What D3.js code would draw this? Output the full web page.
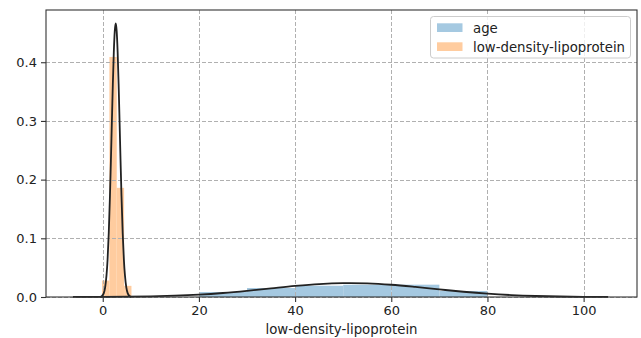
<!DOCTYPE html>
<html>
<head>
<meta charset="utf-8">
<script src="https://cdn.jsdelivr.net/npm/d3@7/dist/d3.min.js"></script>
<style>
  html, body { margin: 0; padding: 0; background: #fff; }
  svg { display: block; font-family: "DejaVu Sans", sans-serif; }
</style>
</head>
<body>
<svg id="chart" width="641" height="338"></svg>
<script>
// Histogram bins (density) for each variable
const ageBinEdges = [20, 30, 40, 50, 60, 70, 80];
const ageDensity = [0.0085, 0.0153, 0.0192, 0.0208, 0.0210, 0.0102];

const ldlBinEdges = [-0.15, 1.38, 2.91, 4.44, 5.97];
const ldlDensity = [0.028, 0.409, 0.186, 0.019];

// Fitted density curves
const ageCurveX = [-6.2, 0, 5, 10, 15, 20, 25, 30, 35, 40, 45, 50, 51.5, 55, 60, 65, 70, 75, 80, 85, 90, 95, 100, 105.1];
const ageCurveY = [0.00007, 0.00022, 0.00052, 0.00112, 0.00224, 0.00409, 0.00684, 0.01047, 0.01467, 0.01879, 0.02203, 0.02366, 0.02375, 0.02324, 0.0209, 0.0172, 0.01296, 0.00893, 0.00564, 0.00325, 0.00172, 0.00083, 0.00037, 0.00015];

const ldlCurveX = [-0.5, -0.2, 0.2, 0.5, 1.0, 1.25, 1.5, 1.7, 1.9, 2.1, 2.3, 2.5, 2.7, 2.9, 3.1, 3.3, 3.5, 3.7, 3.9, 4.15, 4.4, 4.9, 5.2, 5.6, 5.9];
const ldlCurveY = [0.0004, 0.0014, 0.0062, 0.0164, 0.0631, 0.1088, 0.172, 0.233, 0.299, 0.363, 0.417, 0.453, 0.466, 0.453, 0.417, 0.363, 0.299, 0.233, 0.172, 0.1088, 0.0631, 0.0164, 0.0062, 0.0014, 0.0004];

const xTicks = [0, 20, 40, 60, 80, 100];
const yTicks = [0.0, 0.1, 0.2, 0.3, 0.4];
const seriesNames = ["age", "low-density-lipoprotein"];
const xLabel = "low-density-lipoprotein";

const colors = ["#a5c9e1", "#ffcc9f"];

const svg = d3.select("#chart");
const plot = { left: 46, right: 637, top: 10, bottom: 297 };

const x = d3.scaleLinear().domain([-11.8, 111.1]).range([plot.left, plot.right]);
const y = d3.scaleLinear().domain([0, 0.489]).range([plot.bottom, plot.top]);

function bins(edges, vals) {
  return vals.map((v, i) => ({ x0: edges[i], x1: edges[i + 1], v }));
}

// Bars
const barsG = svg.append("g");
[[bins(ageBinEdges, ageDensity), colors[0]], [bins(ldlBinEdges, ldlDensity), colors[1]]].forEach(([data, c]) => {
  barsG.selectAll(null).data(data).enter().append("rect")
    .attr("x", d => x(d.x0))
    .attr("width", d => x(d.x1) - x(d.x0))
    .attr("y", d => y(d.v))
    .attr("height", d => y(0) - y(d.v))
    .attr("fill", c);
});

// Grid
const grid = svg.append("g").attr("stroke", "#b0b0b0").attr("stroke-width", 1).attr("stroke-dasharray", "4,2");
grid.selectAll(null).data(xTicks).enter().append("line")
  .attr("x1", d => Math.round(x(d)) + 0.5).attr("x2", d => Math.round(x(d)) + 0.5)
  .attr("y1", plot.top).attr("y2", plot.bottom);
grid.selectAll(null).data(yTicks).enter().append("line")
  .attr("y1", d => Math.round(y(d)) + 0.5).attr("y2", d => Math.round(y(d)) + 0.5)
  .attr("x1", plot.left).attr("x2", plot.right);

// Curves
const line = d3.line().x(d => x(d[0])).y(d => y(d[1])).curve(d3.curveMonotoneX);
[[ageCurveX, ageCurveY], [ldlCurveX, ldlCurveY]].forEach(([xs, ys]) => {
  svg.append("path")
    .datum(xs.map((v, i) => [v, ys[i]]))
    .attr("d", line)
    .attr("fill", "none")
    .attr("stroke", "#222")
    .attr("stroke-width", 1.8);
});

// Frame
svg.append("rect")
  .attr("x", plot.left).attr("y", plot.top)
  .attr("width", plot.right - plot.left).attr("height", plot.bottom - plot.top)
  .attr("fill", "none").attr("stroke", "#333").attr("stroke-width", 1.1);

// Axes
const xAxis = d3.axisBottom(x).tickValues(xTicks).tickSize(5).tickPadding(4).tickFormat(d3.format("d"));
const yAxis = d3.axisLeft(y).tickValues(yTicks).tickSize(5).tickPadding(4).tickFormat(d3.format(".1f"));

const gx = svg.append("g").attr("transform", `translate(0,${plot.bottom})`).call(xAxis);
const gy = svg.append("g").attr("transform", `translate(${plot.left},0)`).call(yAxis);
[gx, gy].forEach(g => {
  g.select(".domain").remove();
  g.selectAll(".tick line").attr("stroke", "#333").attr("stroke-width", 1.1);
  g.selectAll(".tick text").attr("fill", "#222").style("font-size", "13px").style("font-family", "DejaVu Sans, sans-serif");
});

svg.append("text")
  .attr("x", (plot.left + plot.right) / 2)
  .attr("y", 334)
  .attr("text-anchor", "middle")
  .attr("fill", "#222")
  .style("font-size", "13.3px")
  .text(xLabel);

// Legend
const lg = svg.append("g");
lg.append("rect")
  .attr("x", 430.5).attr("y", 16.5).attr("width", 200).attr("height", 41.5)
  .attr("rx", 3).attr("fill", "#fff").attr("fill-opacity", 0.8)
  .attr("stroke", "#ccc").attr("stroke-width", 1);
seriesNames.forEach((name, i) => {
  const yy = 23.3 + i * 19;
  lg.append("rect").attr("x", 437).attr("y", yy).attr("width", 25.5).attr("height", 8.7).attr("fill", colors[i]);
  lg.append("text").attr("x", 473).attr("y", yy + 9.3).attr("fill", "#222").style("font-size", "13.3px").text(name);
});
</script>
</body>
</html>
